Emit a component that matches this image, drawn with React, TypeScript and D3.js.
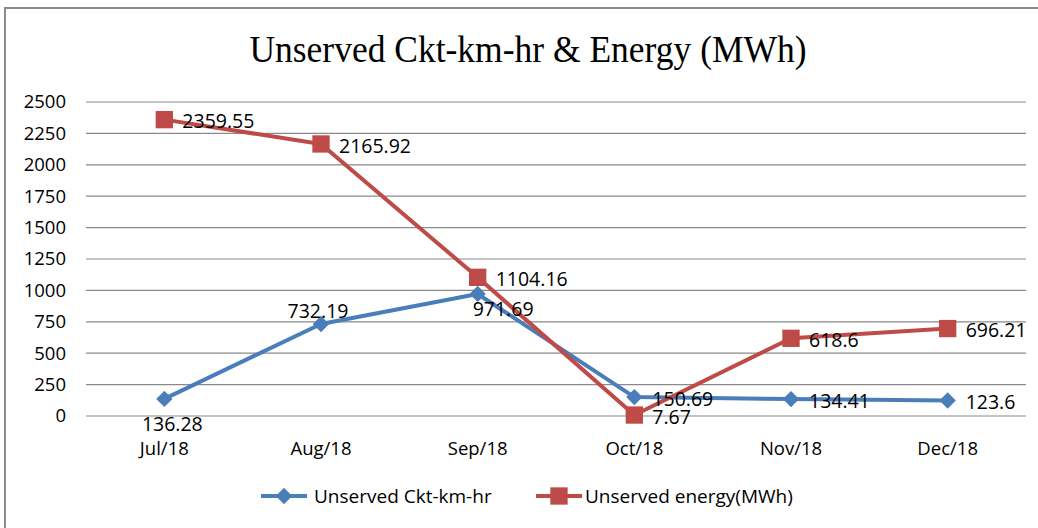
import React, { useEffect, useRef } from 'react';
import * as d3 from 'd3';

const months = ['Jul/18', 'Aug/18', 'Sep/18', 'Oct/18', 'Nov/18', 'Dec/18'];
const cktKmHr = [136.28, 732.19, 971.69, 150.69, 134.41, 123.6];
const energyMWh = [2359.55, 2165.92, 1104.16, 7.67, 618.6, 696.21];
const yTicks = [0, 250, 500, 750, 1000, 1250, 1500, 1750, 2000, 2250, 2500];
// where each data label sits relative to its point
const cktLabelPos = ['below', 'above', 'belowright', 'right', 'right', 'right'];
const energyLabelPos = ['right', 'right', 'right', 'right', 'right', 'right'];

const series = [
  { name: 'Unserved Ckt-km-hr', values: cktKmHr, pos: cktLabelPos, color: '#4A7EBB', marker: 'diamond' },
  { name: 'Unserved energy(MWh)', values: energyMWh, pos: energyLabelPos, color: '#BE4B48', marker: 'square' },
];

const W = 1038;
const H = 528;
const FONT = '"Open Sans", sans-serif';

function App() {
  const ref = useRef<SVGSVGElement>(null);

  useEffect(() => {
    const svg = d3.select(ref.current);
    svg.selectAll('*').remove();

    const left = 86, right = 1026, top = 102, bottom = 416;

    // frame
    svg.append('rect')
      .attr('x', 5).attr('y', 8)
      .attr('width', W + 10).attr('height', H + 10)
      .attr('fill', 'white')
      .attr('stroke', '#8c8c8c')
      .attr('stroke-width', 2);

    svg.append('text')
      .attr('x', 528).attr('y', 62)
      .attr('text-anchor', 'middle')
      .attr('transform', 'translate(528,0) scale(1,1.08) translate(-528,-4.6)')
      .style('font-family', '"Liberation Serif", serif')
      .style('font-size', '35.5px')
      .attr('fill', '#000')
      .text('Unserved Ckt-km-hr & Energy (MWh)');

    const x = d3.scaleBand().domain(months).range([left, right]);
    const y = d3.scaleLinear().domain([0, 2500]).range([bottom, top]);
    const cx = (m: string) => (x(m) as number) + x.bandwidth() / 2;

    // gridlines
    svg.append('g').selectAll('line')
      .data(yTicks)
      .enter()
      .append('line')
      .attr('x1', left).attr('x2', right)
      .attr('y1', d => y(d)).attr('y2', d => y(d))
      .attr('stroke', '#8a8a8a')
      .attr('stroke-width', 1.2);

    // y tick labels
    svg.append('g').selectAll('text')
      .data(yTicks)
      .enter()
      .append('text')
      .attr('x', 66)
      .attr('y', d => y(d))
      .attr('dy', '0.35em')
      .attr('text-anchor', 'end')
      .style('font-family', FONT)
      .style('font-size', '18.5px')
      .attr('fill', '#000')
      .text(d => String(d));

    // x labels
    svg.append('g').selectAll('text')
      .data(months)
      .enter()
      .append('text')
      .attr('x', d => cx(d))
      .attr('y', 449)
      .attr('dy', '0.35em')
      .attr('text-anchor', 'middle')
      .style('font-family', FONT)
      .style('font-size', '18.5px')
      .attr('fill', '#000')
      .text(d => d);

    const line = d3.line<number>()
      .x((d, i) => cx(months[i]))
      .y(d => y(d));

    const diamond = d3.symbol().type(d3.symbolDiamond2).size(170);
    const square = d3.symbol().type(d3.symbolSquare).size(300);

    series.forEach(s => {
      const g = svg.append('g');
      g.append('path')
        .datum(s.values)
        .attr('d', line)
        .attr('fill', 'none')
        .attr('stroke', s.color)
        .attr('stroke-width', 4)
        .attr('stroke-linejoin', 'round');

      g.selectAll('path.mk')
        .data(s.values)
        .enter()
        .append('path')
        .attr('class', 'mk')
        .attr('d', s.marker === 'diamond' ? diamond : square)
        .attr('transform', (d, i) => `translate(${cx(months[i])},${y(d)})`)
        .attr('fill', s.color);
    });

    // data labels (drawn after all lines)
    series.forEach(s => {
      svg.append('g').selectAll('text')
        .data(s.values)
        .enter()
        .append('text')
        .attr('x', (d, i) => {
          const p = s.pos[i];
          const px = cx(months[i]);
          if (p === 'right') return px + 18;
          if (p === 'belowright') return px - 5;
          return px + (p === 'below' ? 8 : -3);
        })
        .attr('y', (d, i) => {
          const p = s.pos[i];
          const py = y(d);
          if (p === 'below') return py + 25;
          if (p === 'above') return py - 13;
          if (p === 'belowright') return py + 15;
          return py + 2;
        })
        .attr('dy', '0.35em')
        .attr('text-anchor', (d, i) => (s.pos[i] === 'right' || s.pos[i] === 'belowright') ? 'start' : 'middle')
        .style('font-family', FONT)
        .style('font-size', '19.5px')
        .attr('fill', '#000')
        .text(d => String(d));
    });

    // legend
    const legendItems = [
      { s: series[0], x0: 261, tx: 314 },
      { s: series[1], x0: 536, tx: 585 },
    ];
    legendItems.forEach(({ s, x0, tx }) => {
      const g = svg.append('g');
      g.append('line')
        .attr('x1', x0).attr('x2', x0 + 46)
        .attr('y1', 496).attr('y2', 496)
        .attr('stroke', s.color)
        .attr('stroke-width', 4);
      g.append('path')
        .attr('d', s.marker === 'diamond' ? diamond : square)
        .attr('transform', `translate(${x0 + 23},496)`)
        .attr('fill', s.color);
      g.append('text')
        .attr('x', tx).attr('y', 496)
        .attr('dy', '0.35em')
        .style('font-family', FONT)
        .style('font-size', '19px')
        .attr('fill', '#000')
        .text(s.name);
    });
  }, []);

  return (
    <svg ref={ref} width={W} height={H}
      style={{ position: 'absolute', left: 0, top: 0, display: 'block', background: 'white' }} />
  );
}

export default App;
